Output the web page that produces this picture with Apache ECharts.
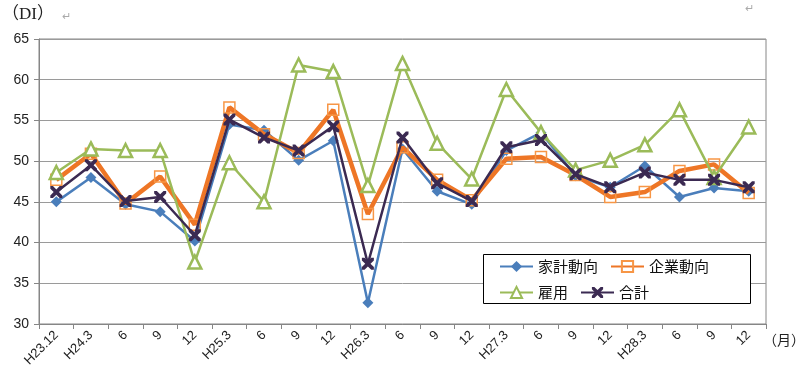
<!DOCTYPE html>
<html><head><meta charset="utf-8">
<script src="https://cdn.jsdelivr.net/npm/echarts@6/dist/echarts.min.js"></script>
<style>html,body{margin:0;padding:0;background:#fff}#c{width:800px;height:384px}</style>
</head><body><div id="c"></div>
<script>
var categories = ['H23.12','H24.3','6','9','12','H25.3','6','9','12','H26.3','6','9','12','H27.3','6','9','12','H28.3','6','9','12'];
var kakei   = [45.0,48.0,44.7,43.8,40.2,54.5,53.8,50.1,52.5,32.6,51.5,46.3,44.7,51.3,53.5,48.2,46.8,49.4,45.6,46.7,46.3];
var kigyo   = [47.7,50.9,44.8,48.1,42.2,56.6,53.3,51.0,56.3,43.5,51.7,47.7,45.2,50.3,50.5,48.3,45.6,46.2,48.8,49.6,46.1];
var koyo    = [48.6,51.5,51.3,51.3,37.6,49.8,45.0,61.8,61.0,47.0,62.0,52.2,47.8,58.8,53.5,48.9,50.1,52.0,56.3,48.0,54.2];
var goukei  = [46.2,49.5,45.1,45.6,40.9,55.1,52.9,51.3,54.3,37.4,52.9,47.3,45.1,51.7,52.6,48.4,46.8,48.6,47.7,47.7,46.8];
var seriesNames = ['家計動向','企業動向','雇用','合計'];

var chart = echarts.init(document.getElementById('c'), null, {renderer:'canvas'});
var xPath = 'path://M0,0L2.2,0L5,2.8L7.8,0L10,0L10,2.2L7.2,5L10,7.8L10,10L7.8,10L5,7.2L2.2,10L0,10L0,7.8L2.8,5L0,2.2Z';
var font = '"Liberation Sans","DejaVu Sans",sans-serif';
var jfont = '"Noto Sans CJK JP",sans-serif';
var legendCommon = {
  left:499, padding:0, itemGap:12, itemWidth:33, itemHeight:14,
  textStyle:{fontFamily:jfont,fontSize:15,color:'#111',width:83,padding:[0,0,0,0]}
};
chart.setOption({
  animation:false,
  backgroundColor:'#fff',
  grid:{left:39,right:34,top:39,bottom:60,show:true,borderColor:'#868686',borderWidth:1},
  title:{text:'（DI）',left:-3,top:1,textStyle:{fontFamily:'"Liberation Serif","Noto Sans CJK JP",serif',fontSize:17,fontWeight:'normal',color:'#222'}},
  graphic:[
    {type:'rect',left:483,top:254,z:10,shape:{width:267,height:49},style:{fill:'#fff',stroke:'#000',lineWidth:1}},
    {type:'text',left:62,top:10,style:{text:'↵',fill:'#aaa',font:'11px '+jfont}},
    {type:'text',left:745,top:2,style:{text:'↵',fill:'#aaa',font:'11px '+jfont}},
    {type:'text',left:763,top:333,style:{text:'（月）',fill:'#222',font:'14px '+jfont}}
  ],
  legend:[
    Object.assign({data:['家計動向','企業動向'],top:259,z:20}, legendCommon),
    Object.assign({data:['雇用','合計'],top:285,z:20}, legendCommon)
  ],
  xAxis:{
    type:'category',data:categories,boundaryGap:true,
    axisLine:{lineStyle:{color:'#868686',width:1}},
    axisTick:{show:true,length:5,interval:0,lineStyle:{color:'#868686'}},
    axisLabel:{interval:0,rotate:45,fontFamily:font,fontSize:13,color:'#222',margin:9},
    splitLine:{show:false}
  },
  yAxis:{
    type:'value',min:30,max:65,interval:5,
    axisLine:{show:true,lineStyle:{color:'#868686'}},
    axisTick:{show:true,length:5,lineStyle:{color:'#868686'}},
    axisLabel:{fontFamily:font,fontSize:14,color:'#222',margin:10},
    splitLine:{lineStyle:{color:'#9a9a9a',width:1}}
  },
  series:[
    {name:'家計動向',type:'line',data:kakei,symbol:'diamond',symbolSize:11,
     lineStyle:{color:'#4a7ebb',width:2.5},itemStyle:{color:'#4a7ebb'},z:2},
    {name:'企業動向',type:'line',data:kigyo,symbol:'rect',symbolSize:11,
     lineStyle:{color:'#ee7626',width:4.5},itemStyle:{color:'rgba(255,255,255,0)',borderColor:'#f79646',borderWidth:1.5},z:3},
    {name:'雇用',type:'line',data:koyo,symbol:'triangle',symbolSize:13,
     lineStyle:{color:'#9bbb59',width:2.5},itemStyle:{color:'#fff',borderColor:'#9bbb59',borderWidth:2.5},z:4},
    {name:'合計',type:'line',data:goukei,symbol:xPath,symbolSize:12,
     lineStyle:{color:'#3b2a52',width:2.5},itemStyle:{color:'#3b2a52'},z:5}
  ]
});
</script></body></html>
